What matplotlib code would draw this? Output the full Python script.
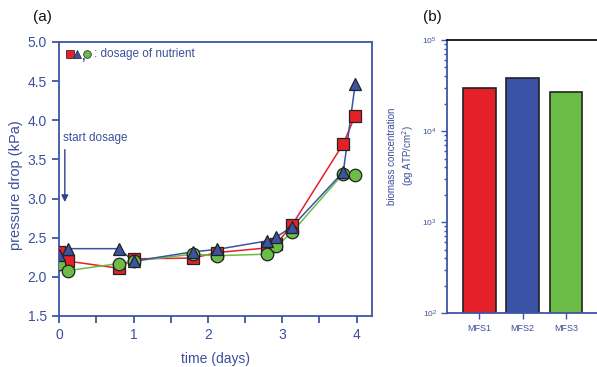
import matplotlib
matplotlib.use("Agg")
import matplotlib.pyplot as plt
import numpy as np

plt.rcParams['font.family'] = ['Liberation Sans', 'DejaVu Sans']

# ---- data (a) ----
days = [0.0, 0.12, 0.8, 1.0, 1.8, 2.12, 2.8, 2.92, 3.13, 3.82, 3.98]
mfs1_dp = [2.32, 2.20, 2.11, 2.23, 2.24, 2.31, 2.37, 2.42, 2.66, 3.70, 4.06]
mfs2_dp = [2.28, 2.36, 2.36, 2.20, 2.32, 2.35, 2.46, 2.51, 2.64, 3.34, 4.46]
mfs3_dp = [2.16, 2.08, 2.17, 2.20, 2.29, 2.27, 2.29, 2.39, 2.57, 3.32, 3.30]

# ---- data (b) ----
systems = ['MFS1', 'MFS2', 'MFS3']
biomass = [30000, 38000, 27000]

RED = '#e42128'
BLUE = '#3a53a4'
GREEN = '#6bbd45'
AXC = '#3d56a6'
TXT = '#3d4f9c'

fig = plt.figure(figsize=(5.97, 3.67), dpi=100)

# ---------- panel (a) ----------
ax = fig.add_axes([0.098, 0.139, 0.5256, 0.7466])
series = [(mfs1_dp, RED, 's'), (mfs3_dp, GREEN, 'o'), (mfs2_dp, BLUE, '^')]
for vals, col, mk in series:
    ax.plot(days, vals, color=col, lw=1.1, zorder=2)
for vals, col, mk in series:
    ax.plot(days, vals, ls='none', marker=mk, ms=9 if mk != 's' else 8.5,
            mfc=col, mec='#222222', mew=0.9, zorder=3)

ax.set_xlim(-0.01, 4.21)
ax.set_ylim(1.5, 5.0)
ax.set_xticks([0, 1, 2, 3, 4])
ax.set_xticks([0.5, 1.5, 2.5, 3.5], minor=True)
ax.set_yticks([1.5, 2.0, 2.5, 3.0, 3.5, 4.0, 4.5, 5.0])
ax.yaxis.set_major_formatter(matplotlib.ticker.FormatStrFormatter('%.1f'))
for s in ax.spines.values():
    s.set_color(AXC)
    s.set_linewidth(1.3)
ax.tick_params(axis='both', which='both', colors=AXC, labelcolor=TXT,
               direction='out', width=1.3, labelsize=10)
ax.tick_params(which='major', length=5)
ax.tick_params(which='minor', length=5)
ax.set_xlabel('time (days)', color=TXT, fontsize=10, labelpad=7)
ax.set_ylabel('pressure drop (kPa)', color=TXT, fontsize=10.5)
ax.yaxis.set_label_coords(-0.112, 0.478)

# legend-like annotation
ax.plot([0.0366], [0.955], marker='s', ms=5.5, mfc=RED, mec='#333333', mew=0.6,
        transform=ax.transAxes, clip_on=False)
ax.plot([0.059], [0.955], marker='^', ms=6, mfc=BLUE, mec='#333333', mew=0.6,
        transform=ax.transAxes, clip_on=False)
ax.text(0.0715, 0.947, ',', transform=ax.transAxes, color=TXT, fontsize=9,
        ha='left', va='center', fontweight='bold')
ax.plot([0.0895], [0.955], marker='o', ms=5.5, mfc=GREEN, mec='#333333', mew=0.6,
        transform=ax.transAxes, clip_on=False)
ax.text(0.112, 0.955, ': dosage of nutrient', transform=ax.transAxes,
        color=TXT, fontsize=8.5, ha='left', va='center')

ax.text(0.05, 3.77, 'start dosage', color=TXT, fontsize=8.5, ha='left', va='center')
ax.annotate('', xy=(0.075, 2.92), xytext=(0.075, 3.66),
            arrowprops=dict(arrowstyle='-|>', color='#34408f', lw=1.0,
                            mutation_scale=10))

fig.text(0.055, 0.955, '(a)', fontsize=11, color='#111111', ha='left', va='center')

# ---------- panel (b) ----------
bx = fig.add_axes([0.7492, 0.1463, 0.264, 0.7447])
bx.bar(np.arange(len(systems)), biomass, width=0.755,
       color=[RED, BLUE, GREEN], edgecolor='#222222', linewidth=1.2, zorder=2)
bx.set_yscale('log')
bx.set_ylim(1e2, 1e5)
bx.set_xlim(-0.74, 2.9)
bx.set_xticks(np.arange(len(systems)))
bx.set_xticklabels(systems)
bx.spines['left'].set_color(AXC)
bx.spines['bottom'].set_color(AXC)
bx.spines['top'].set_color('#111111')
bx.spines['right'].set_visible(False)
for s in bx.spines.values():
    s.set_linewidth(1.3)
bx.tick_params(axis='both', which='both', colors=AXC, labelcolor=TXT,
               direction='out', width=1.0, labelsize=6.5)
bx.tick_params(axis='y', which='major', length=4, labelsize=6)
bx.tick_params(axis='y', which='minor', length=2.5)
bx.tick_params(axis='x', which='major', length=4)
fig.text(0.672, 0.575, 'biomass concentration\n(pg ATP/cm$^2$)', rotation=90,
         color=TXT, fontsize=7, ha='center', va='center', linespacing=1.3)
fig.text(0.708, 0.955, '(b)', fontsize=11, color='#111111', ha='left', va='center')

fig.savefig('out.png', dpi=100)
